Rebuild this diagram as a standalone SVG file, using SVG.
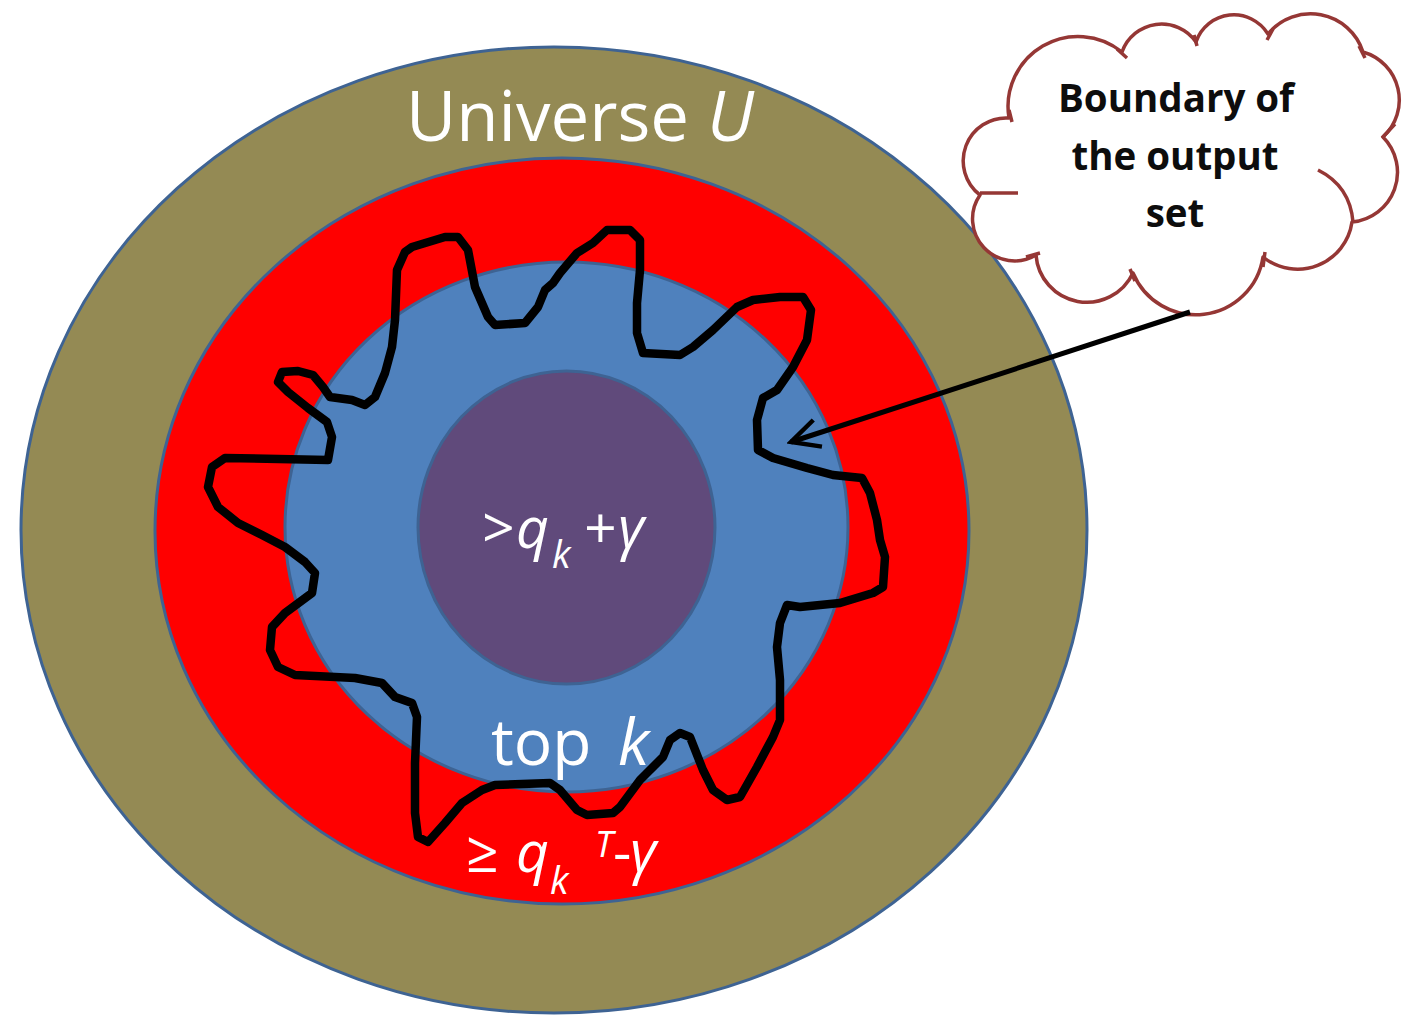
<svg xmlns="http://www.w3.org/2000/svg" width="1412" height="1015" viewBox="0 0 1412 1015">
<style>
.ring{stroke:#3E6393;stroke-width:3}
.lbl{font-family:"Open Sans","Liberation Sans",sans-serif;fill:#ffffff}
.it{font-style:italic}
.cloudtxt{font-family:"Open Sans","Liberation Sans",sans-serif;font-weight:bold;font-size:38.5px;fill:#0d0d0d;text-anchor:middle}
.cloud{fill:#ffffff;stroke:#953735;stroke-width:3.5;stroke-linejoin:round}
.tick{fill:none;stroke:#953735;stroke-width:3.5;stroke-linecap:butt}
.boundary{fill:none;stroke:#000000;stroke-width:8.5;stroke-linejoin:round;stroke-linecap:round}
.conn{stroke:#000000;stroke-width:5;fill:none}
</style>
<defs>
<marker id="openArrow" markerUnits="userSpaceOnUse" markerWidth="36" markerHeight="36" viewBox="0 0 36 36" refX="32" refY="18" orient="auto">
<path d="M4,4 L32,18 L4,32" fill="none" stroke="#000000" stroke-width="4.5" stroke-linejoin="miter"/>
</marker>
</defs>
<rect width="1412" height="1015" fill="#ffffff"/>
<g id="universe">
<ellipse class="ring" cx="554" cy="530" rx="533" ry="483" fill="#948A54"/>
<text class="lbl" x="406" y="141" font-size="69">Universe <tspan class="it">U</tspan></text>
</g>
<g id="lower-band">
<ellipse class="ring" cx="562" cy="531" rx="407" ry="373" fill="#FF0000"/>
</g>
<g id="top-k">
<ellipse class="ring" cx="566.5" cy="527" rx="281.5" ry="265" fill="#4F81BD"/>
</g>
<g id="inner">
<ellipse class="ring" cx="566.5" cy="527.5" rx="148.5" ry="156.5" fill="#604A7B"/>
<text class="lbl it" y="548" font-size="57"><tspan x="481">&gt;</tspan><tspan x="516">q</tspan><tspan x="552" y="568" font-size="38">k</tspan><tspan x="583" y="548">+</tspan><tspan x="618">γ</tspan></text>
</g>
<g id="output-boundary">
<path class="boundary" d="M328,460 L332,437 L327,422 L308,408 L288,392 L278,382 L282,372 L298,371 L313,375 L323,387 L330,397 L352,400 L365,405 L375,397 L385,373 L392,347 L395,320 L397,270 L405,252 L412,247 L445,237 L458,237 L468,250 L475,287 L488,317 L495,325 L525,323 L538,307 L545,290 L553,283 L560,273 L577,253 L593,243 L607,230 L630,230 L640,240 L640,270 L637,303 L637,333 L643,353 L680,355 L693,347 L713,330 L737,307 L753,300 L780,297 L803,297 L811,310 L807,340 L793,367 L777,390 L763,398 L757,420 L758,450 L773,458 L807,468 L833,475 L862,478 L870,493 L877,520 L880,540 L885,557 L883,587 L873,593 L840,603 L800,607 L787,605 L780,623 L777,647 L780,680 L780,720 L773,737 L757,767 L740,797 L727,800 L713,790 L703,770 L690,737 L680,733 L670,740 L663,757 L640,780 L620,807 L613,813 L587,815 L577,810 L560,790 L550,783 L495,785 L482,790 L462,803 L445,823 L428,842 L418,837 L415,813 L415,763 L417,717 L412,703 L395,697 L382,683 L355,678 L295,675 L278,667 L270,650 L272,627 L285,613 L312,593 L315,573 L305,562 L285,547 L262,535 L238,523 L218,507 L208,487 L212,467 L225,458 Z"/>
</g>
<g id="labels">
<text class="lbl" y="765" font-size="64"><tspan x="491">top</tspan><tspan class="it" x="618">k</tspan></text>
<text class="lbl" y="872" font-size="57"><tspan x="466">≥</tspan><tspan class="it" x="516">q</tspan><tspan class="it" x="550" y="894" font-size="38">k</tspan><tspan class="it" x="595" y="857" font-size="36">T</tspan><tspan x="613" y="872">-</tspan><tspan class="it" x="630">γ</tspan></text>
</g>
<g id="cloud-callout">
<path class="cloud" d="M1009,118 A70,70 0 0 1 1122,52 A42,42 0 0 1 1196,42 A40,40 0 0 1 1268,34 A55,55 0 0 1 1363,52 A50,50 0 0 1 1383,137 A50,50 0 0 1 1352,222 A55,55 0 0 1 1263,257 A68,68 0 0 1 1133,273 A51,51 0 0 1 1036,255 A42,42 0 0 1 980,195 A43,43 0 0 1 1009,118 Z"/>
<path class="tick" d="M1009,110 L1012,122 M1117,49 L1127,58 M1194,35 L1197,46 M1273,29 L1267,40 M1359,46 L1365,58 M1395,124 L1382,138 M1318,170 Q1350,186 1353,222 M1265,252 L1263,267 M1130,269 L1135,281 M1026,257 L1040,253 M980,193 L1018,193"/>
<text class="cloudtxt" x="1176" y="112">Boundary of</text>
<text class="cloudtxt" x="1175" y="170">the output</text>
<text class="cloudtxt" x="1175" y="227">set</text>
</g>
<g id="connectors">
<line class="conn" x1="1190" y1="312" x2="791" y2="442" marker-end="url(#openArrow)"/>
</g>
</svg>
